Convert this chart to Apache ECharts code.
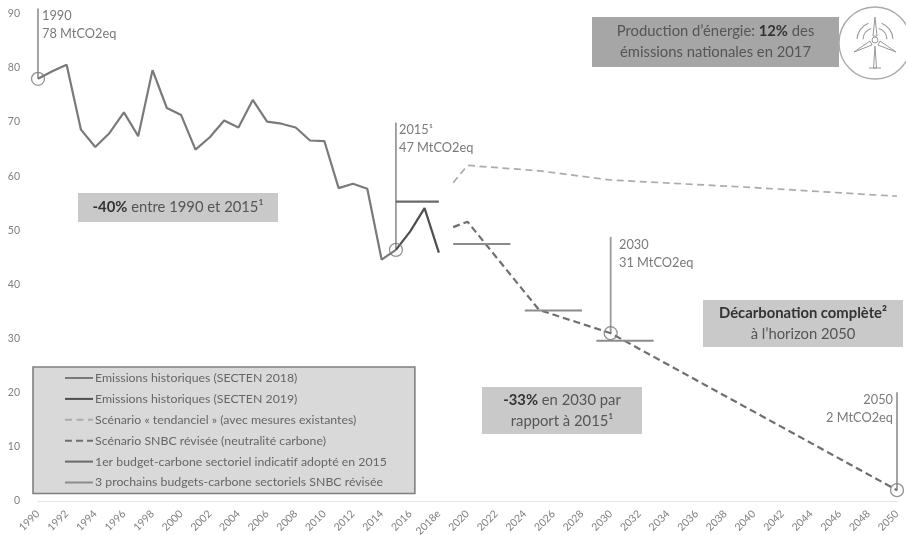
<!DOCTYPE html>
<html><head><meta charset="utf-8">
<style>html,body{margin:0;padding:0;background:#fff}#c{width:906px;height:535px;filter:blur(0.7px)}</style>
<script src="https://cdn.jsdelivr.net/npm/echarts@6/dist/echarts.min.js"></script>
</head><body><div id="c"></div>
<script>
const years = [];
for (let y = 1990; y <= 2050; y++) years.push(y === 2018 ? '2018e' : String(y));
const yTicksMax = 90;

const hist2018Years = ['1990','1991','1992','1993','1994','1995','1996','1997','1998','1999','2000','2001','2002','2003','2004','2005','2006','2007','2008','2009','2010','2011','2012','2013','2014','2015'];
const hist2018Values = [78,79.4,80.6,68.6,65.4,68,71.8,67.4,79.6,72.6,71.3,64.9,67.2,70.3,69,74.1,70.1,69.7,69,66.6,66.5,57.8,58.6,57.7,44.6,46.4];
const hist2019Years = ['2015','2016','2017','2018e'];
const hist2019Values = [46.4,49.8,54.1,45.9];
const tendYears = ['2019','2020','2025','2030','2040','2050'];
const tendValues = [58.8,62,61,59.3,57.9,56.3];
const snbcYears = ['2019','2020','2025','2030','2050'];
const snbcValues = [50.6,51.6,35.3,31,2];
const budget1Years = ['2015','2018e'];
const budget1Values = [55.3,55.3];
const budget2Years = ['2019','2023'];
const budget2Values = [47.5,47.5];
const budget3Years = ['2024','2028'];
const budget3Values = [35.2,35.2];
const budget4Years = ['2029','2033'];
const budget4Values = [29.6,29.6];
const calloutYears = ['1990','2015','2030','2050'];
const calloutValues = [78,46.4,31,2];
const calloutTops = [91,69.9,48.8,20.1];
const legendNames = ['Emissions historiques (SECTEN 2018)','Emissions historiques (SECTEN 2019)','Scénario « tendanciel » (avec mesures existantes)','Scénario SNBC révisée (neutralité carbone)','1er budget-carbone sectoriel indicatif adopté en 2015','3 prochains budgets-carbone sectoriels SNBC révisée'];

const pairs = (xs, vs) => xs.map((x, i) => [x, vs[i]]);
const FONT = 'Lato, "Open Sans", sans-serif';

function lineS(name, xs, vs, color, width, dash, z) {
  return {type:'line', name, data:pairs(xs,vs), symbol:'none', z:z||3, silent:true,
    lineStyle:{color, width, type:dash||'solid'}, itemStyle:{color}};
}
const series = [
  lineS(legendNames[0], hist2018Years, hist2018Values, '#7a7a7a', 2.2),
  lineS(legendNames[1], hist2019Years, hist2019Values, '#4f4f4f', 2.2),
  lineS(legendNames[2], tendYears, tendValues, '#ababab', 1.7, [7,4.5]),
  lineS(legendNames[3], snbcYears, snbcValues, '#6f6f6f', 2.2, [7,4]),
  lineS(legendNames[4], budget1Years, budget1Values, '#6a6a6a', 2.2),
  lineS(legendNames[5], budget2Years, budget2Values, '#8c8c8c', 2),
  lineS(legendNames[5], budget3Years, budget3Values, '#8c8c8c', 2),
  lineS(legendNames[5], budget4Years, budget4Values, '#8c8c8c', 2)
];
calloutYears.forEach((y, i) => {
  series.push(lineS('callout'+y, [y,y], [calloutValues[i], calloutTops[i]], '#9a9a9a', 1.8, null, 2));
});
series.push({type:'scatter', name:'points', data:pairs(calloutYears, calloutValues), symbol:'circle', symbolSize:13, silent:true, z:5,
  itemStyle:{color:'rgba(255,255,255,0)', borderColor:'#777', borderWidth:1.3}});

function box(x,y,w,h,fill,lines){
  const out=[{type:'rect', z:1, shape:{x,y,width:w,height:h}, style:{fill}, silent:true}];
  lines.forEach((t,i)=>{
    out.push({type:'text', z:6, silent:true, x:x+w/2, y:y+h/2+(i-(lines.length-1)/2)*21,
      style:{text:t, align:'center', verticalAlign:'middle', font:'14.8px '+FONT, fill:'#555',
        rich:{b:{font:'bold 14.8px '+FONT, fill:'#333'}, n:{font:'14.8px '+FONT, fill:'#555'}}}});
  });
  return out;
}
function callout(x,y,a,b,align){
  return [a,b].map((t,i)=>({type:'text', z:6, silent:true, x, y:y+i*18,
    style:{text:t, align:align||'left', verticalAlign:'middle', font:'12.8px '+FONT, fill:'#7a7a7a'}}));
}
const ic = '#999';
const turbine = [
  {type:'circle', shape:{cx:875,cy:43,r:36}, style:{fill:'#fff',stroke:'#aaa',lineWidth:1.4}},
  {type:'polyline', shape:{points:[[875,46],[873.5,68],[876.5,68],[875,46]]}, style:{fill:'none',stroke:ic,lineWidth:1}},
  {type:'polyline', shape:{points:[[875,17],[873,36],[877,36],[875,17]]}, style:{fill:'none',stroke:ic,lineWidth:1}},
  {type:'polyline', shape:{points:[[854,52],[870,41],[872,45],[854,52]]}, style:{fill:'none',stroke:ic,lineWidth:1}},
  {type:'polyline', shape:{points:[[896,52],[880,41],[878,45],[896,52]]}, style:{fill:'none',stroke:ic,lineWidth:1}},
  {type:'circle', shape:{cx:875,cy:40,r:3}, style:{fill:'#fff',stroke:ic,lineWidth:1}},
  {type:'line', shape:{x1:869,y1:68,x2:881,y2:68}, style:{stroke:ic,lineWidth:1}},
  {type:'arc', shape:{cx:875,cy:40,r:12,startAngle:Math.PI*1.02,endAngle:Math.PI*1.4}, style:{fill:'none',stroke:ic,lineWidth:1.1}},
  {type:'arc', shape:{cx:875,cy:40,r:18,startAngle:Math.PI*1.02,endAngle:Math.PI*1.38}, style:{fill:'none',stroke:ic,lineWidth:1.1}},
  {type:'arc', shape:{cx:875,cy:40,r:12,startAngle:Math.PI*1.6,endAngle:Math.PI*1.98}, style:{fill:'none',stroke:ic,lineWidth:1.1}},
  {type:'arc', shape:{cx:875,cy:40,r:18,startAngle:Math.PI*1.62,endAngle:Math.PI*1.98}, style:{fill:'none',stroke:ic,lineWidth:1.1}}
].map(o=>Object.assign(o,{silent:true,z:6}));

const graphics = [
  ...box(78,193,200,29,'#c9c9c9',['{b|-40%} {n|entre 1990 et 2015¹}']),
  ...box(592,17,247,50,'#a6a6a6',['{n|Production d’énergie:} {b|12%} {n|des}','{n|émissions nationales en 2017}']),
  ...box(703,300,200,47,'#c9c9c9',['{b|Décarbonation complète²}','{n|à l’horizon 2050}']),
  ...box(482,387,160,47,'#c9c9c9',['{b|-33%} {n|en 2030 par}','{n|rapport à 2015¹}']),
  ...callout(42,16,'1990','78 MtCO2eq'),
  ...callout(399,130,'2015¹','47 MtCO2eq'),
  ...callout(619,245,'2030','31 MtCO2eq'),
  ...callout(893,400,'2050','2 MtCO2eq','right'),
  ...turbine
];

const chart = echarts.init(document.getElementById('c'), null, {renderer:'canvas'});
chart.setOption({
  animation:false,
  backgroundColor:'#fff',
  textStyle:{fontFamily:FONT},
  grid:{left:38, right:9, top:3, height:498, outerBoundsMode:'none'},
  xAxis:{type:'category', data:years, boundaryGap:false,
    axisLine:{lineStyle:{color:'#e6e6e6',width:1.2}}, axisTick:{show:false},
    axisLabel:{interval:1, rotate:45, color:'#808080', fontSize:10.5, margin:11, fontFamily:FONT}},
  yAxis:{type:'value', min:0, max:92, interval:10, splitLine:{show:false}, axisLine:{show:false}, axisTick:{show:false},
    axisLabel:{color:'#808080', fontSize:10.5, margin:18, showMaxLabel:false, fontFamily:FONT,
      formatter:v=>v<=yTicksMax?String(v):''}},
  legend:{show:true, orient:'vertical', left:33, top:367, data:legendNames, selectedMode:false,
    backgroundColor:'#d9d9d9', borderColor:'#7f7f7f', borderWidth:1.6, borderRadius:0,
    padding:[5,28,5,31], itemWidth:28, itemHeight:12, itemGap:8.9,
    itemStyle:{opacity:0},
    textStyle:{color:'#666', fontSize:12.3, lineHeight:12, fontFamily:FONT, padding:[0,0,0,-3]}, z:8},
  graphic:graphics,
  series
});
</script></body></html>
